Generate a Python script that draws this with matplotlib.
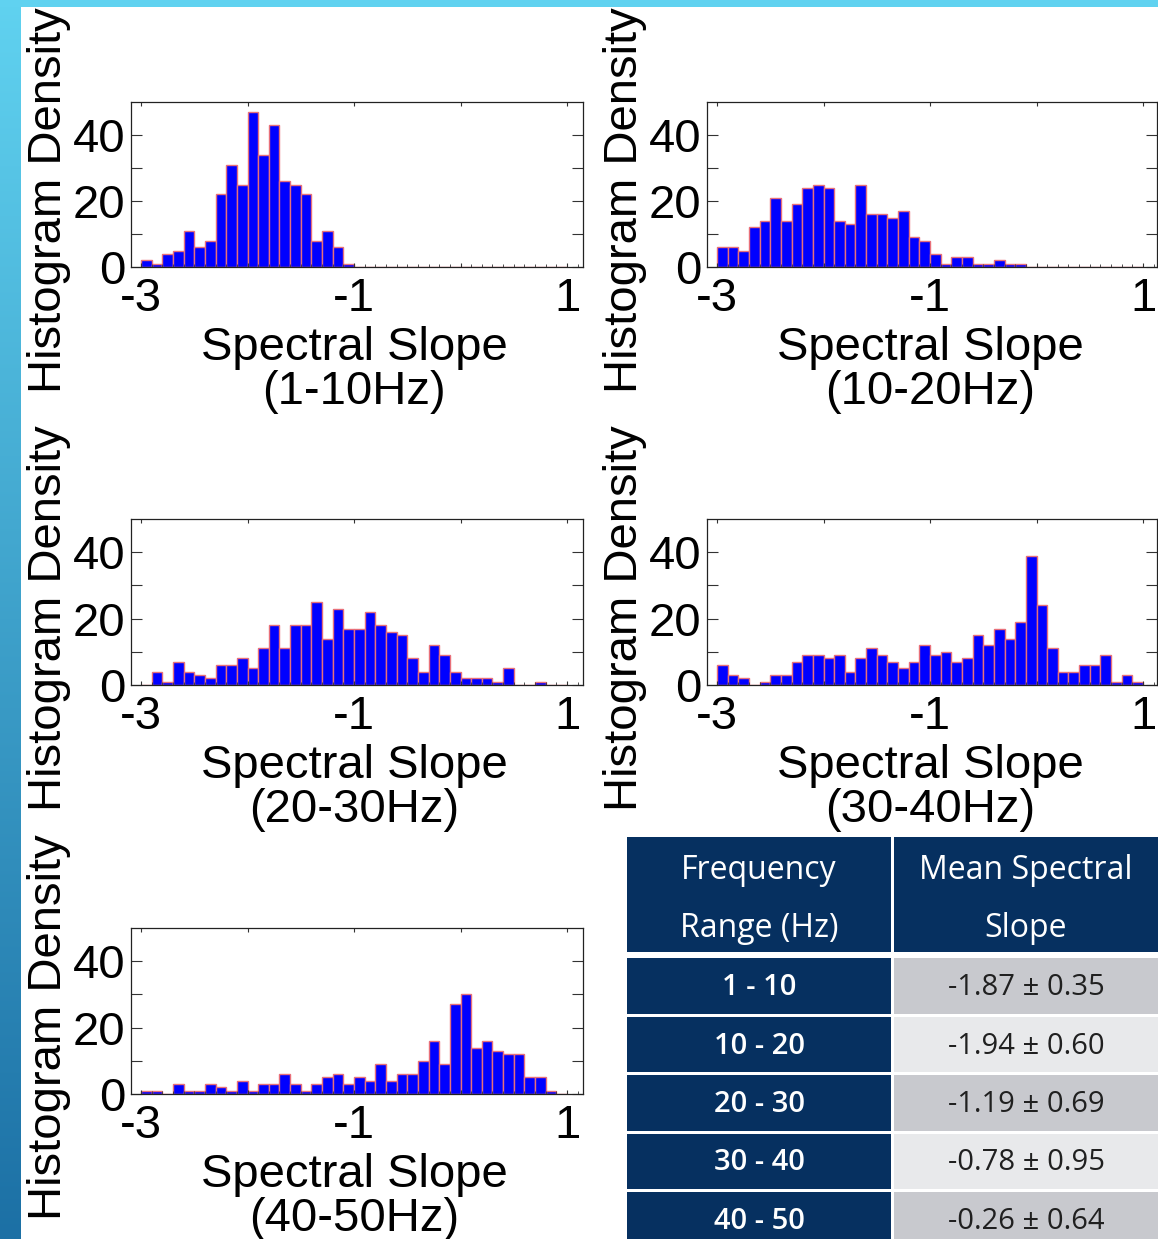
import numpy as np
import matplotlib.pyplot as plt
from matplotlib.patches import Rectangle
from matplotlib.ticker import MultipleLocator

## ----------------------------
## Data
## ----------------------------
bin_edges = np.linspace(-3, 1, 41)   # 0.1 wide bins
bands = ['1-10Hz', '10-20Hz', '20-30Hz', '30-40Hz', '40-50Hz']

counts_1_10 = [2, 1, 4, 5, 11, 6, 8, 22, 31, 25,
               47, 34, 43, 26, 25, 22, 8, 11, 6, 1,
               0, 0, 0, 0, 0, 0, 0, 0, 0, 0,
               0, 0, 0, 0, 0, 0, 0, 0, 0, 0]
counts_10_20 = [6, 6, 5, 12, 14, 21, 14, 19, 24, 25,
                24, 14, 13, 25, 16, 16, 15, 17, 9, 8,
                4, 1, 3, 3, 1, 1, 2, 1, 1, 0,
                0, 0, 0, 0, 0, 0, 0, 0, 0, 0]
counts_20_30 = [0, 4, 1, 7, 4, 3, 2, 6, 6, 8,
                5, 11, 18, 11, 18, 18, 25, 14, 23, 17,
                17, 22, 18, 16, 15, 8, 4, 12, 9, 4,
                2, 2, 2, 1, 5, 0, 0, 1, 0, 0]
counts_30_40 = [6, 3, 2, 0, 1, 3, 3, 7, 9, 9,
                8, 9, 4, 8, 11, 9, 7, 5, 7, 12,
                9, 10, 7, 8, 15, 12, 17, 14, 19, 39,
                24, 11, 4, 4, 6, 6, 9, 1, 3, 1]
counts_40_50 = [1, 1, 0, 3, 1, 1, 3, 2, 1, 4,
                1, 3, 3, 6, 3, 1, 3, 5, 6, 3,
                5, 4, 9, 4, 6, 6, 10, 16, 9, 27,
                30, 14, 16, 13, 12, 12, 5, 5, 1, 0]
hist_counts = [counts_1_10, counts_10_20, counts_20_30, counts_30_40, counts_40_50]

# summary table
freq_ranges = ['1 - 10', '10 - 20', '20 - 30', '30 - 40', '40 - 50']
mean_slopes = [-1.87, -1.94, -1.19, -0.78, -0.26]
slope_sds = [0.35, 0.60, 0.69, 0.95, 0.64]

## ----------------------------
## Layout (pixels, y from top)
## ----------------------------
W, H = 1158, 1239
fig = plt.figure(figsize=(W / 100, H / 100), dpi=100, facecolor='white')

def px_rect(x, y, w, h):
    return [x / W, 1 - (y + h) / H, w / W, h / H]

def fx(x):
    return x / W

def fy(y):
    return 1 - y / H

# background: cyan bar on top, blue gradient down the left side
bg = fig.add_axes([0, 0, 1, 1], zorder=0)
top_col = np.array([96, 210, 240]) / 255
bot_col = np.array([28, 112, 165]) / 255
t = np.linspace(0, 1, 256)[:, None, None]
grad = top_col * (1 - t) + bot_col * t
bg.imshow(grad, extent=(0, 21, H, 0), aspect='auto', interpolation='bilinear')
bg.add_patch(Rectangle((0, 0), W, 7, color=top_col, lw=0))
bg.set_xlim(0, W)
bg.set_ylim(H, 0)
bg.axis('off')

ax_px = [(131, 102, 452, 165), (707, 102, 450, 165),
         (131, 519, 452, 166), (707, 519, 450, 166),
         (131, 928, 452, 166)]
px_per_unit = 106.5
x_min = -3.094

font = ['Liberation Sans', 'DejaVu Sans']
fs = 34

for (x0, y0, w, h), band, vals in zip(ax_px, bands, hist_counts):
    ax = fig.add_axes(px_rect(x0, y0, w, h), zorder=2)
    ax.bar(bin_edges[:-1], vals, width=0.1, align='edge',
           color='#0000ff', edgecolor='#e8707a', linewidth=1.0)
    ax.set_xlim(x_min, x_min + w / px_per_unit)
    ax.set_ylim(0, 50)
    ax.set_xticks([-3, -2, -1, 0, 1])
    ax.set_xticklabels(['-3', '', '-1', '', '1'])
    ax.set_yticks([0, 10, 20, 30, 40])
    ax.set_yticklabels(['0', '', '20', '', '40'])
    ax.xaxis.set_minor_locator(MultipleLocator(0.1))
    for lab in ax.get_xticklabels() + ax.get_yticklabels():
        lab.set_family(font)
        lab.set_fontsize(fs)
    ax.tick_params(axis='both', which='both', direction='in',
                   top=True, right=True, color='#333333')
    ax.tick_params(axis='x', which='major', length=3, width=0.8, pad=7)
    ax.tick_params(axis='x', which='minor', length=2, width=0.6, top=False)
    ax.tick_params(axis='y', length=8, width=0.8, pad=4)
    for sp in ax.spines.values():
        sp.set_color('#222222')
        sp.set_linewidth(0.9)

    # two-line x label under each panel
    cx = x0 + 226 - 3
    fig.text(fx(cx), fy(y0 + h + 93), 'Spectral Slope', family=font,
             fontsize=fs, ha='center', va='baseline')
    fig.text(fx(cx), fy(y0 + h + 137), f'({band})', family=font,
             fontsize=fs, ha='center', va='baseline')
    fig.text(fx(x0 - 82), fy(y0 + h / 2 + 16), 'Histogram Density',
             family=font, fontsize=fs, rotation=90, ha='center', va='center')

## ----------------------------
## Summary table
## ----------------------------
navy = '#063060'
row_bg = ['#c8c9ce', '#e8e9eb']
tfont = ['Open Sans', 'DejaVu Sans']
c1x, c1w = 627, 264
c2x, c2w = 894, 270
c1c = c1x + c1w / 2
c2c = 1026

bg.add_patch(Rectangle((c1x, 837), c1w, 115, color=navy, lw=0))
bg.add_patch(Rectangle((c2x, 837), c2w, 115, color=navy, lw=0))
for txt, cx, yb in [('Frequency', c1c, 879), ('Range (Hz)', c1c, 937),
                    ('Mean Spectral', c2c, 879), ('Slope', c2c, 937)]:
    bg.text(cx, yb, txt, color='white', family=tfont, fontsize=23,
            ha='center', va='baseline')

for i, (rng, m, sd) in enumerate(zip(freq_ranges, mean_slopes, slope_sds)):
    top = 958 + i * 58.5
    bg.add_patch(Rectangle((c1x, top), c1w, 55.5, color=navy, lw=0))
    bg.add_patch(Rectangle((c2x, top), c2w, 55.5, color=row_bg[i % 2], lw=0))
    bg.text(c1c, top + 37, rng, color='white', family=tfont,
            fontsize=21, ha='center', va='baseline', weight='semibold')
    bg.text(c2c, top + 37, f'{m:.2f} \u00b1 {sd:.2f}', color='#202020',
            family=tfont, fontsize=21, ha='center', va='baseline')

fig.savefig('out.png', dpi=100, facecolor='white')
